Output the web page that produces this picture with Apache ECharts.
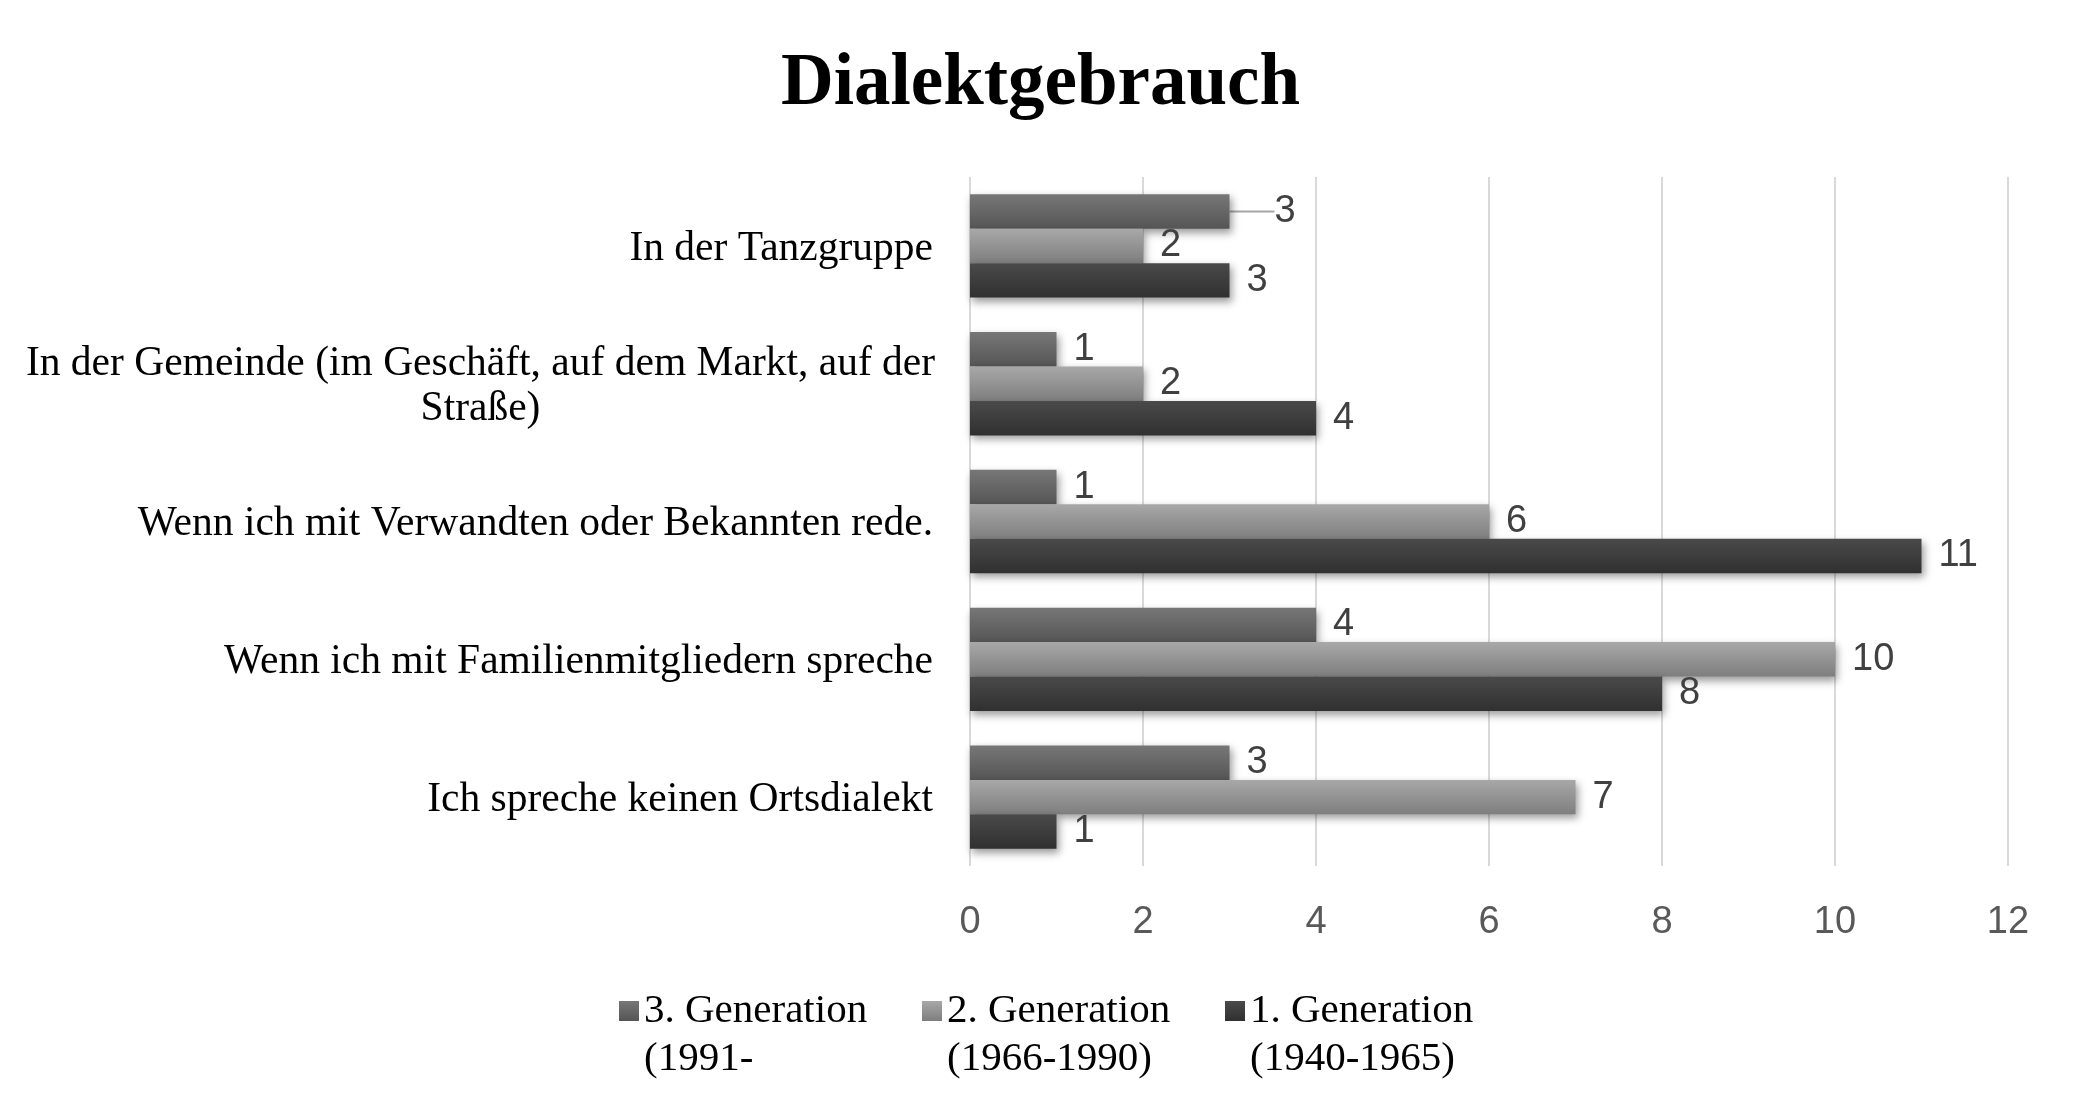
<!DOCTYPE html>
<html>
<head>
<meta charset="utf-8">
<script src="https://cdn.jsdelivr.net/npm/echarts@6/dist/echarts.min.js"></script>
<style>
html,body{margin:0;padding:0;background:#fff;}
#chart{width:2081px;height:1119px;}
</style>
</head>
<body>
<div id="chart"></div>
<script>
const categories = [
  'In der Tanzgruppe',
  'In der Gemeinde (im Geschäft, auf dem Markt, auf der\nStraße)',
  'Wenn ich mit Verwandten oder Bekannten rede.',
  'Wenn ich mit Familienmitgliedern spreche',
  'Ich spreche keinen Ortsdialekt'
];
const seriesNames = ['3. Generation\n(1991-', '2. Generation\n(1966-1990)', '1. Generation\n(1940-1965)'];
const gen3 = [3, 1, 1, 4, 3];
const gen2 = [2, 2, 6, 10, 7];
const gen1 = [3, 4, 11, 8, 1];
const xTicks = { min: 0, max: 12, interval: 2 };

const grads = [
  ['#777777', '#555555'],
  ['#a8a8a8', '#7e7e7e'],
  ['#4a4a4a', '#303030']
];
function grad(c) {
  return new echarts.graphic.LinearGradient(0, 0, 0, 1, [
    { offset: 0, color: c[0] }, { offset: 1, color: c[1] }
  ]);
}
const numFont = "'Liberation Sans Narrow', 'Liberation Sans', sans-serif";
const serif = "'Liberation Serif', 'Times New Roman', serif";

function mkSeries(name, data, idx) {
  return {
    name: name,
    type: 'bar',
    data: data,
    barGap: '0%',
    barCategoryGap: '25%',
    itemStyle: {
      color: grad(grads[idx]),
      shadowColor: 'rgba(0,0,0,0.4)',
      shadowBlur: 8,
      shadowOffsetX: 2,
      shadowOffsetY: 4
    },
    label: {
      show: true,
      position: 'right',
      distance: 17,
      color: '#404040',
      fontFamily: numFont,
      fontSize: 38
    },
    labelLine: { show: false, lineStyle: { color: '#a6a6a6', width: 2 } },
    z: 2
  };
}

const chart = echarts.init(document.getElementById('chart'), null, { renderer: 'canvas' });
// first label of the 3rd generation is pulled away with a leader line, as in the original
const gen3Items = gen3.map(function (v, i) {
  return i === 0 ? { value: v, labelLine: { show: true, lineStyle: { color: '#a6a6a6', width: 2 } } } : v;
});
const s3 = mkSeries(seriesNames[0], gen3Items, 0);
s3.labelLayout = function (p) { return p.dataIndex === 0 ? { dx: 28 } : {}; };
const option = {
  backgroundColor: '#ffffff',
  title: {
    text: 'Dialektgebrauch',
    left: 'center',
    top: 44,
    textStyle: { fontFamily: serif, fontWeight: 'bold', fontSize: 73, color: '#000' }
  },
  legend: {
    data: seriesNames,
    left: 614,
    top: 934,
    itemWidth: 20,
    itemHeight: 20,
    itemGap: 22,
    icon: 'rect',
    formatter: function (n) { return '\n' + n; },
    textStyle: {
      fontFamily: serif, fontSize: 41, color: '#000', lineHeight: 48,
      width: 256
    }
  },
  grid: { left: 970, right: 73, top: 177, bottom: 253, containLabel: false },
  xAxis: {
    type: 'value',
    min: xTicks.min, max: xTicks.max, interval: xTicks.interval,
    axisLine: { show: false },
    axisTick: { show: false },
    splitLine: { show: true, lineStyle: { color: '#d9d9d9', width: 2 } },
    axisLabel: { color: '#595959', fontFamily: numFont, fontSize: 38, margin: 38 }
  },
  yAxis: {
    type: 'category',
    inverse: true,
    data: categories,
    axisLine: { show: false },
    axisTick: { show: false },
    axisLabel: {
      margin: 37,
      color: '#000',
      fontFamily: serif,
      fontSize: 41.5,
      lineHeight: 45,
      padding: [6, 0, 0, 0],
      formatter: function (v) {
        if (v.indexOf('\n') >= 0) {
          return v.split('\n').map(function (l) { return '{c|' + l + '}'; }).join('\n');
        }
        return v;
      },
      rich: {
        c: { fontFamily: serif, fontSize: 41.5, lineHeight: 45, color: '#000', width: 905, align: 'center' }
      }
    }
  },
  series: [s3, mkSeries(seriesNames[1], gen2, 1), mkSeries(seriesNames[2], gen1, 2)]
};
chart.setOption(option);
</script>
</body>
</html>
